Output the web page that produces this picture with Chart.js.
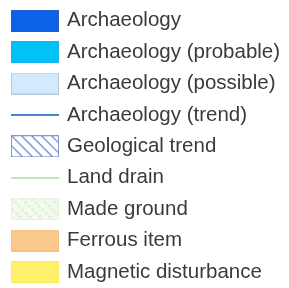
<!DOCTYPE html>
<html>
<head>
<meta charset="utf-8">
<script src="https://cdn.jsdelivr.net/npm/chart.js@4"></script>
<style>
  html, body { margin: 0; padding: 0; background: #fff; }
  #wrap { width: 289px; height: 288px; }
</style>
</head>
<body>
<div id="wrap"><canvas id="legend"></canvas></div>
<script>
// legend entries
const categories = [
  'Archaeology',
  'Archaeology (probable)',
  'Archaeology (possible)',
  'Archaeology (trend)',
  'Geological trend',
  'Land drain',
  'Made ground',
  'Ferrous item',
  'Magnetic disturbance'
];
const kinds = ['box', 'box', 'box', 'line', 'hatch', 'line', 'dashhatch', 'box', 'box'];
const fills = ['#0a62e8', '#00c2f6', '#d3eafc', '#4a86d6', '#ffffff', '#c3e6b0', '#f2faee', '#fbc88c', '#fff06a'];
const edges = ['#2a5cc0', '#18b4e8', '#b7c9d8', null, '#7e9bd8', null, '#e4f3dc', '#f6c286', '#fbe95c'];
const hatchColors = [null, null, null, null, '#5b84d0', null, '#cfeac2', null, null];

// small swatch images used as legend point styles
function makeSwatch(i) {
  const c = document.createElement('canvas');
  const kind = kinds[i];
  c.width = 48;
  c.height = kind === 'line' ? (i === 3 ? 2 : 2) : 22;
  const ctx = c.getContext('2d');
  ctx.fillStyle = fills[i];
  ctx.fillRect(0, 0, c.width, c.height);
  if (kind === 'hatch' || kind === 'dashhatch') {
    ctx.save();
    ctx.beginPath();
    ctx.rect(1, 1, c.width - 2, c.height - 2);
    ctx.clip();
    ctx.strokeStyle = hatchColors[i];
    ctx.lineWidth = 1.2;
    if (kind === 'dashhatch') ctx.setLineDash([3, 2]);
    for (let x = -30; x < 60; x += 10) {
      ctx.beginPath();
      ctx.moveTo(x, 0);
      ctx.lineTo(x + 22, 22);
      ctx.stroke();
    }
    ctx.restore();
  }
  if (edges[i]) {
    ctx.strokeStyle = edges[i];
    ctx.lineWidth = 1;
    ctx.strokeRect(0.5, 0.5, c.width - 1, c.height - 1);
  }
  return c;
}

const swatches = categories.map((_, i) => makeSwatch(i));

new Chart(document.getElementById('legend'), {
  type: 'bar',
  data: {
    labels: [],
    datasets: categories.map((name, i) => ({
      label: name,
      data: [],
      backgroundColor: fills[i]
    }))
  },
  options: {
    responsive: true,
    maintainAspectRatio: false,
    animation: false,
    events: [],
    layout: { padding: { left: 2.35, top: -0.45, bottom: -20, right: -60 } },
    scales: {
      x: { display: false },
      y: { display: false }
    },
    plugins: {
      tooltip: { enabled: false },
      legend: {
        position: 'left',
        align: 'start',
        maxWidth: 300,
        labels: {
          usePointStyle: true,
          pointStyleWidth: 43.5,
          padding: 10.9,
          color: '#3a3a3a',
          font: { family: '"Liberation Sans", Arial, sans-serif', size: 20.5 },
          generateLabels: (chart) => chart.data.datasets.map((ds, i) => ({
            text: ds.label,
            fillStyle: fills[i],
            strokeStyle: fills[i],
            lineWidth: 0,
            pointStyle: swatches[i],
            fontColor: '#3a3a3a',
            hidden: false,
            datasetIndex: i
          }))
        }
      }
    }
  }
});
</script>
</body>
</html>
